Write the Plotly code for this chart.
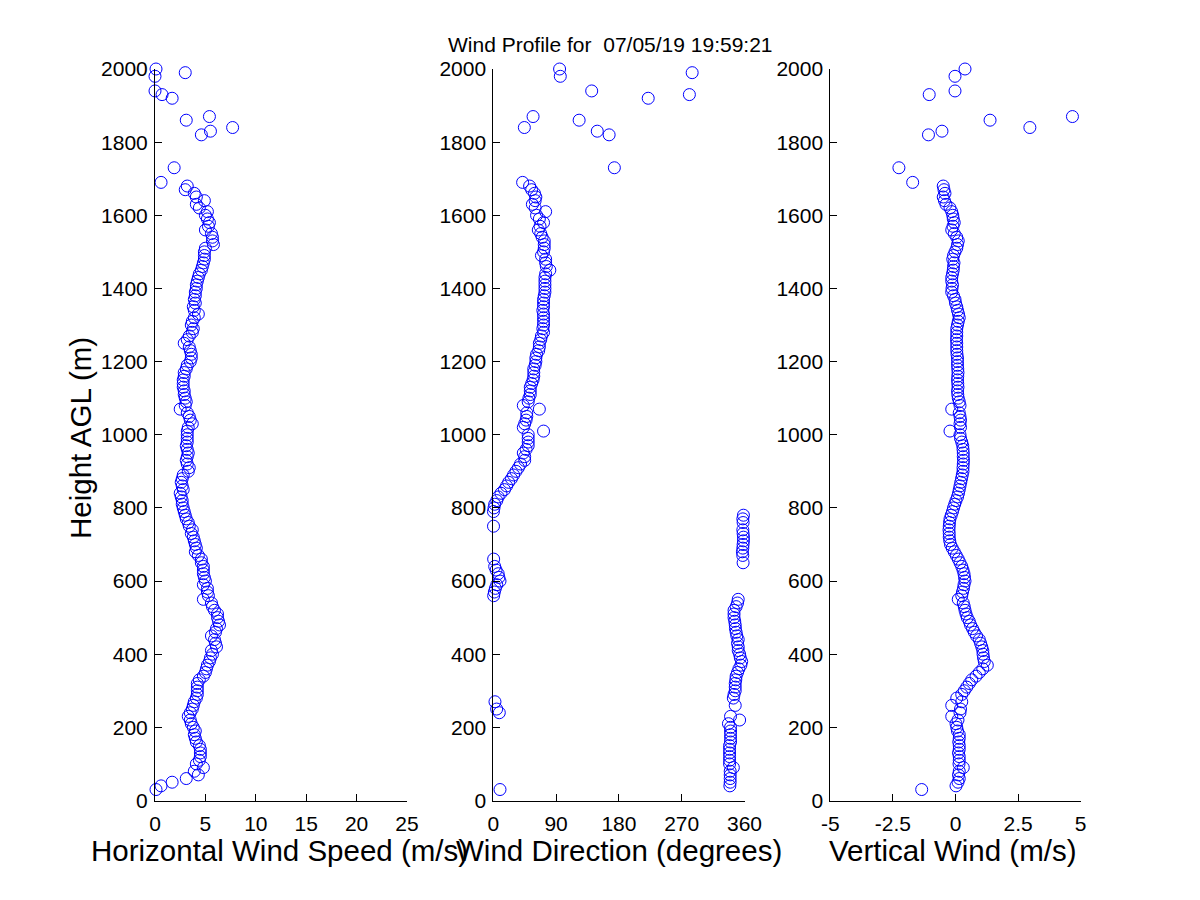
import plotly.graph_objects as go

# --- profile data (one value per range gate) ---

# gate heights (m AGL), dense part first, then the scattered gates near the top
height_m = [
    30, 40, 50, 60, 70, 80, 90, 100, 110, 120,
    130, 140, 150, 160, 170, 180, 190, 200, 210, 220,
    230, 240, 250, 260, 270, 280, 290, 300, 310, 320,
    330, 340, 350, 360, 370, 380, 390, 400, 410, 420,
    430, 440, 450, 460, 470, 480, 490, 500, 510, 520,
    530, 540, 550, 560, 570, 580, 590, 600, 610, 620,
    630, 640, 650, 660, 670, 680, 690, 700, 710, 720,
    730, 740, 750, 760, 770, 780, 790, 800, 810, 820,
    830, 840, 850, 860, 870, 880, 890, 900, 910, 920,
    930, 940, 950, 960, 970, 980, 990, 1000, 1010, 1020,
    1030, 1040, 1050, 1060, 1070, 1080, 1090, 1100, 1110, 1120,
    1130, 1140, 1150, 1160, 1170, 1180, 1190, 1200, 1210, 1220,
    1230, 1240, 1250, 1260, 1270, 1280, 1290, 1300, 1310, 1320,
    1330, 1340, 1350, 1360, 1370, 1380, 1390, 1400, 1410, 1420,
    1430, 1440, 1450, 1460, 1470, 1480, 1490, 1500, 1510, 1520,
    1530, 1540, 1550, 1560, 1570, 1580, 1590, 1600, 1610, 1620,
    1630, 1640, 1650, 1660, 1670, 1680, 1690,
    1730, 1820, 1830, 1840, 1860, 1870, 1920, 1930, 1940, 1980, 1990, 2000,
]

# horizontal wind speed (m/s)
speed_ms = [
    0.1, 0.6, 1.7, 3.1, 4.3, 3.9, 4.8, 4.1, 4.4, 4.5,
    4.5, 4.5, 4.4, 4.1, 4.0, 3.9, 4.0, 3.8, 3.6, 3.5,
    3.3, 3.5, 3.7, 3.8, 3.9, 4.1, 4.2, 4.2, 4.2, 4.2,
    4.4, 4.8, 5.0, 5.1, 5.2, 5.4, 5.5, 5.7, 5.6, 6.1,
    6.0, 5.9, 5.6, 6.0, 6.1, 6.4, 6.3, 6.2, 6.2, 5.9,
    5.7, 5.6, 4.8, 5.3, 5.2, 5.2, 4.8, 5.0, 4.9, 4.8,
    4.8, 4.8, 4.6, 4.6, 4.3, 4.0, 4.1, 4.0, 3.9, 3.8,
    3.6, 3.7, 3.4, 3.3, 3.1, 3.0, 2.9, 2.8, 2.7, 2.7,
    2.6, 2.5, 2.8, 2.7, 2.6, 2.7, 2.8, 3.3, 3.4, 3.2,
    3.1, 3.2, 3.3, 3.2, 3.1, 3.2, 3.2, 3.2, 3.2, 3.3,
    3.7, 3.5, 3.4, 3.2, 2.5, 3.0, 3.1, 3.0, 2.9, 2.9,
    2.8, 2.8, 2.8, 2.9, 2.9, 3.1, 3.2, 3.5, 3.6, 3.6,
    3.5, 3.4, 2.9, 3.2, 3.4, 3.7, 3.8, 3.6, 3.7, 3.9,
    4.3, 3.9, 3.8, 4.0, 3.9, 4.0, 4.0, 4.1, 4.1, 4.2,
    4.3, 4.4, 4.6, 4.7, 4.8, 4.9, 4.9, 4.9, 5.0, 5.8,
    5.7, 5.7, 5.6, 5.0, 5.3, 5.4, 5.2, 5.0, 5.2, 4.4,
    4.1, 4.9, 4.1, 3.9, 3.0, 3.2, 0.6,
    1.9, 4.6, 5.5, 7.7, 3.1, 5.4, 1.7, 0.7, 0.0, 0.0, 3.0, 0.1,
]

# wind direction (degrees)
direction_deg = [
    9.6, 339, 339.5, 339.5, 339.5, 339.5, 344, 338.6, 338.6, 338.6,
    338.6, 338.6, 338.6, 340, 340, 340, 340, 340, 337, 353,
    340, 8.6, 4.8, 346.7, 2.4, 344, 345, 346.7, 346.7, 346.7,
    347.5, 348, 350, 352, 354.8, 356, 354, 353, 351, 351,
    350, 351, 349, 348, 347, 346.7, 346, 345, 345, 345,
    348, 350, 351, 0.5, 1.5, 3, 5, 9.6, 8, 7,
    4, 2, 358, 0.5, 357.5, 357, 357.6, 358, 358.5, 358.5,
    358, 357.6, 0.3, 358, 357.6, 358.5, 0.2, 1, 2, 5,
    7, 11, 16, 19, 22, 26, 29, 32.5, 36, 39,
    45, 45, 43, 47, 50, 50, 50, 50, 72, 43,
    45, 47, 48, 48, 66, 43, 50, 51, 53, 53,
    53, 55, 57, 58, 58, 58, 60, 61, 61, 62,
    65, 66, 66, 68, 69, 72, 71, 72, 72, 72,
    72, 71, 72, 72, 72, 73, 74, 74, 74, 74,
    74, 75, 81, 76, 75, 75, 69, 72, 73, 73,
    73, 70, 68, 64.5, 67, 72, 66, 62, 75, 60,
    56, 60, 61, 59, 55, 52, 42,
    173.5, 166, 149, 44.5, 123, 57, 222, 281, 141, 96, 285, 95,
]

# vertical wind (m/s); None where the gate has no value on this panel
vertical_ms = [
    -1.35, 0.02, 0.1, 0.15, 0.12, 0.15, 0.31, 0.14, 0.15, 0.15,
    0.12, 0.15, 0.15, 0.13, 0.15, 0.15, 0.08, 0.05, 0.02, 0.1,
    -0.15, 0.18, 0.2, -0.15, 0.25, 0.05, 0.25, 0.35, 0.45, 0.55,
    0.65, 0.82, 0.95, 1.09, 1.27, 1.15, 1.12, 1.1, 1.09, 1.05,
    1.0, 0.95, 0.84, 0.75, 0.68, 0.6, 0.55, 0.47, 0.42, 0.38,
    0.35, 0.31, 0.11, 0.25, 0.28, 0.32, 0.34, 0.38, 0.36, 0.34,
    0.3, 0.25, 0.18, 0.11, 0.03, -0.05, -0.13, -0.2, -0.23, -0.25,
    -0.25, -0.26, -0.25, -0.24, -0.22, -0.17, -0.12, -0.08, -0.03, 0.02,
    0.08, 0.12, 0.15, 0.18, 0.21, 0.24, 0.27, 0.3, 0.3, 0.31,
    0.32, 0.31, 0.31, 0.3, 0.29, 0.25, 0.2, 0.18, -0.22, 0.2,
    0.18, 0.2, 0.18, 0.15, -0.15, 0.18, 0.15, 0.11, 0.09, 0.08,
    0.1, 0.09, 0.08, 0.09, 0.1, 0.09, 0.08, 0.08, 0.08, 0.06,
    0.05, 0.05, 0.05, 0.04, 0.05, 0.05, 0.05, 0.08, 0.11, 0.15,
    0.12, 0.08, 0.05, 0.0, -0.02, -0.08, -0.15, -0.14, -0.12, -0.15,
    -0.15, -0.12, -0.09, -0.08, -0.06, -0.11, -0.08, -0.02, 0.05, 0.08,
    0.11, 0.05, -0.05, -0.15, -0.1, -0.05, -0.09, -0.11, -0.15, -0.22,
    -0.38, -0.44, -0.49, -0.42, -0.46, -0.49, -1.71,
    -2.26, -1.08, -0.54, 2.97, 1.38, 4.67, None, -1.05, -0.02, -0.02, None, 0.38,
]

height_ticks = [0, 200, 400, 600, 800, 1000, 1200, 1400, 1600, 1800, 2000]
speed_ticks = [0, 5, 10, 15, 20, 25]
direction_ticks = [0, 90, 180, 270, 360]
vertical_ticks = [-5, -2.5, 0, 2.5, 5]
vertical_tick_text = ["-5", "-2.5", "0", "2.5", "5"]

title_text = "Wind Profile for\u00a0 07/05/19 19:59:21"

# --- figure ---

FONT = "Liberation Sans, Arial, sans-serif"
W, H = 1200, 900
OFF = 8  # the page body margin pushes the figure 8px right/down

# plot boxes in screen pixels (left, right), shared top/bottom, like matlab subplot(1,3,k)
boxes = [(155, 407), (493.3, 744.5), (830.3, 1080.7)]
y_top, y_bot = 69, 800.5


def px_x(x):
    return (x - OFF) / W


def px_y(y):
    return 1 - (y - OFF) / H


fig = go.Figure()

series = [speed_ms, direction_deg, vertical_ms]
for i, xs in enumerate(series):
    suffix = "" if i == 0 else str(i + 1)
    fig.add_trace(
        go.Scatter(
            x=xs,
            y=height_m,
            mode="markers",
            marker=dict(
                symbol="circle-open", size=12, color="#0000ff", line=dict(width=1)
            ),
            xaxis="x" + suffix,
            yaxis="y" + suffix,
            cliponaxis=False,
            showlegend=False,
            hoverinfo="x+y",
        )
    )

axis_common = dict(
    showline=True,
    linecolor="black",
    linewidth=1,
    mirror=False,
    showgrid=False,
    zeroline=False,
    automargin=False,
    ticks="inside",
    ticklen=7,
    tickwidth=1,
    tickcolor="black",
    tickfont=dict(family=FONT, size=21, color="black"),
)

x_ranges = [[0, 25], [0, 360], [-5, 5]]
x_ticks = [speed_ticks, direction_ticks, vertical_ticks]
x_text = [
    [str(t) for t in speed_ticks],
    [str(t) for t in direction_ticks],
    vertical_tick_text,
]

layout_axes = {}
for i, (left, right) in enumerate(boxes):
    suffix = "" if i == 0 else str(i + 1)
    layout_axes["xaxis" + suffix] = dict(
        axis_common,
        domain=[px_x(left), px_x(right)],
        range=x_ranges[i],
        tickvals=x_ticks[i],
        ticktext=x_text[i],
        anchor="y" + suffix,
        ticklabelstandoff=4,
    )
    layout_axes["yaxis" + suffix] = dict(
        axis_common,
        domain=[px_y(y_bot), px_y(y_top)],
        range=[0, 2000],
        tickvals=height_ticks,
        anchor="x" + suffix,
        ticklabelstandoff=2,
    )

# axis labels and title as annotations placed in screen pixels
label_font = dict(family=FONT, size=29.5, color="black")
annotations = [
    dict(text="Horizontal Wind Speed (m/s)", x=px_x(279), y=px_y(850)),
    dict(text="Wind Direction (degrees)", x=px_x(619), y=px_y(850)),
    dict(text="Vertical Wind (m/s)", x=px_x(953), y=px_y(850)),
    dict(text="Height AGL (m)", x=px_x(80), y=px_y(438), textangle=-90),
]
for a in annotations:
    a.update(
        xref="paper",
        yref="paper",
        xanchor="center",
        yanchor="middle",
        showarrow=False,
        font=label_font,
    )
annotations.append(
    dict(
        text=title_text,
        x=px_x(610),
        y=px_y(44),
        xref="paper",
        yref="paper",
        xanchor="center",
        yanchor="middle",
        showarrow=False,
        font=dict(family=FONT, size=21, color="black"),
    )
)

fig.update_layout(
    template="none",
    width=W,
    height=H,
    margin=dict(l=0, r=0, t=0, b=0),
    paper_bgcolor="white",
    plot_bgcolor="white",
    annotations=annotations,
    **layout_axes,
)

fig.write_html("out.html")
